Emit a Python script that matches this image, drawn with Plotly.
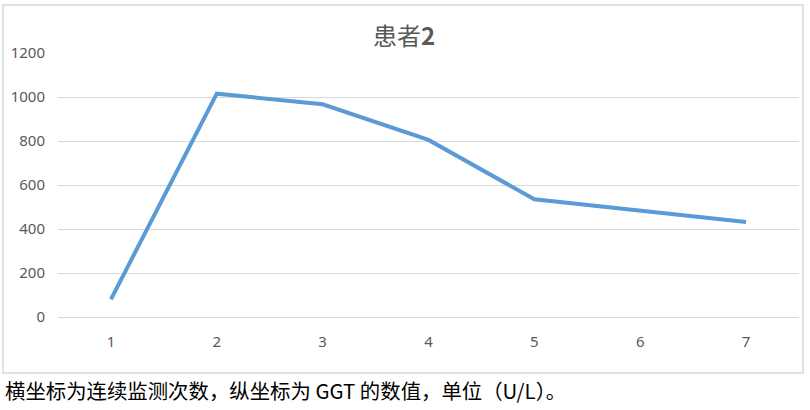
import plotly.graph_objs as go

# GGT per monitoring round (patient 2)
rounds = ['1', '2', '3', '4', '5', '6', '7']
ggt = [80, 1015, 967, 805, 535, 482, 432]
y_ticks = [0, 200, 400, 600, 800, 1000, 1200]

title_text = '患者<b>2</b>'
caption = '横坐标为连续监测次数，纵坐标为 GGT 的数值，单位（U/L）。'

trace1 = go.Scatter(
    x=rounds,
    y=ggt,
    mode='lines',
    line=dict(color='#5B9BD5', width=4),
    showlegend=False
)

fig = go.Figure(data=[trace1])

fig.update_layout(
    width=810,
    height=410,
    margin=dict(l=58, r=11, t=53, b=93, autoexpand=False),
    paper_bgcolor='white',
    plot_bgcolor='white',
    font=dict(family='Noto Sans, Noto Sans CJK SC', color='#595959', size=15),
    title=dict(
        text=title_text,
        x=404 / 810, xanchor='center', xref='container',
        y=1 - 37 / 410, yanchor='middle', yref='container',
        font=dict(family='Noto Sans CJK SC', size=24, color='#595959')
    ),
    xaxis=dict(
        type='category',
        range=[-0.5, 6.5],
        showgrid=False,
        showline=False,
        zeroline=False,
        ticks='',
        automargin=False,
        ticklabelstandoff=14,
        tickfont=dict(size=15, color='#595959'),
        fixedrange=True
    ),
    yaxis=dict(
        range=[0, 1200],
        tickvals=y_ticks,
        showgrid=True,
        gridcolor='#D9D9D9',
        gridwidth=1,
        zeroline=True,
        zerolinecolor='#D9D9D9',
        zerolinewidth=1,
        showline=False,
        ticks='',
        automargin=False,
        ticklabelstandoff=12,
        tickfont=dict(size=15, color='#595959'),
        fixedrange=True
    ),
    # outer chart frame (pixel positions converted to paper units)
    shapes=[dict(
        type='rect', xref='paper', yref='paper',
        x0=(3 - 58) / 741, x1=(803 - 58) / 741,
        y0=(317 - 373) / 264, y1=(317 - 5) / 264,
        line=dict(color='#D9D9D9', width=1.5),
        fillcolor='rgba(0,0,0,0)', layer='below'
    )],
    annotations=[dict(
        text=caption, xref='paper', yref='paper',
        x=(3 - 58) / 741, xanchor='left',
        y=(317 - 390) / 264, yanchor='middle',
        showarrow=False,
        font=dict(family='Noto Sans CJK SC', size=20.4, color='#000000')
    )]
)

# drop the default 8px body margin so the figure sits at the page corner
fig.write_html("out.html", config={'displayModeBar': False},
               post_script="document.body.style.margin='0';")
